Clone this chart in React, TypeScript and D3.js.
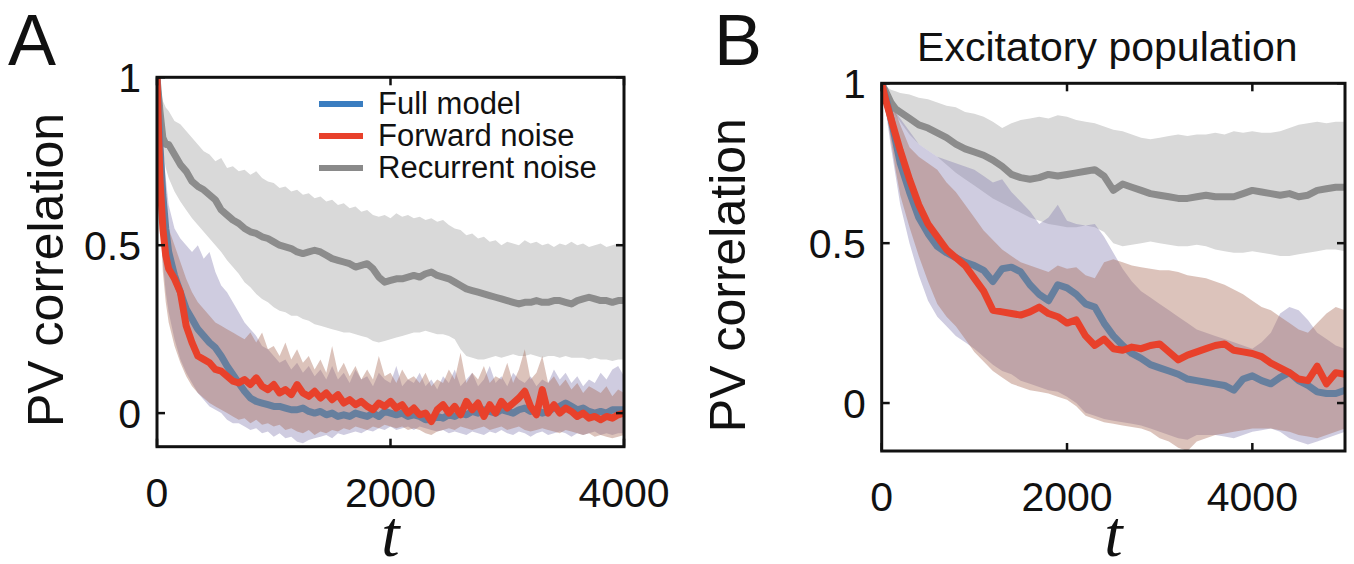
import React from "react";
import * as d3 from "d3";

// sample times of the traces
const tA = [0, 25, 50, 75, 100, 150, 200, ...d3.range(250, 4001, 50)];
const tB = [0, 50, 100, 150, 200, ...d3.range(300, 5001, 100)];

const seriesNames = ["Full model", "Forward noise", "Recurrent noise"];
const xTicksA = [0, 2000, 4000];
const xTicksB = [0, 2000, 4000];
const yTicks = [0, 0.5, 1];

// ---------- panel A ----------
const recMeanA = [
  1.0, 0.9, 0.82, 0.8, 0.8, 0.77, 0.74,
  0.72, 0.69, 0.675, 0.665, 0.65, 0.635, 0.605, 0.59, 0.575, 0.565,
  0.55, 0.54, 0.535, 0.525, 0.52, 0.51, 0.5, 0.495, 0.49, 0.48,
  0.475, 0.48, 0.485, 0.48, 0.47, 0.46, 0.455, 0.45, 0.445, 0.435,
  0.44, 0.445, 0.43, 0.405, 0.39, 0.395, 0.4, 0.4, 0.405, 0.41,
  0.405, 0.415, 0.42, 0.41, 0.405, 0.4, 0.39, 0.38, 0.37, 0.365,
  0.36, 0.355, 0.35, 0.345, 0.34, 0.335, 0.33, 0.325, 0.33, 0.33,
  0.335, 0.33, 0.33, 0.335, 0.335, 0.33, 0.325, 0.335, 0.34, 0.345,
  0.34, 0.335, 0.335, 0.33, 0.335, 0.335,
];
const recHighA = [
  1.0, 0.97, 0.93, 0.91, 0.9, 0.87, 0.86,
  0.84, 0.82, 0.8, 0.78, 0.77, 0.75, 0.76, 0.73, 0.735, 0.72,
  0.725, 0.71, 0.72, 0.7, 0.69, 0.685, 0.67, 0.675, 0.66, 0.665,
  0.65, 0.655, 0.64, 0.645, 0.63, 0.635, 0.62, 0.625, 0.61, 0.615,
  0.6, 0.605, 0.59, 0.585, 0.59, 0.58, 0.595, 0.585, 0.59, 0.58,
  0.585, 0.575, 0.58, 0.57, 0.575, 0.56, 0.55, 0.545, 0.53, 0.535,
  0.52, 0.525, 0.51, 0.515, 0.5, 0.51, 0.505, 0.5, 0.515, 0.505,
  0.51, 0.5, 0.505, 0.495, 0.505, 0.5, 0.51, 0.5, 0.505, 0.495,
  0.5, 0.505, 0.495, 0.5, 0.505, 0.5,
];
const recLowA = [
  1.0, 0.88, 0.78, 0.73, 0.7, 0.66, 0.63,
  0.605, 0.58, 0.56, 0.54, 0.52, 0.5, 0.48, 0.455, 0.435, 0.415,
  0.39, 0.375, 0.355, 0.34, 0.33, 0.315, 0.305, 0.3, 0.29, 0.29,
  0.28, 0.275, 0.265, 0.26, 0.255, 0.25, 0.245, 0.24, 0.24, 0.235,
  0.23, 0.225, 0.215, 0.21, 0.215, 0.22, 0.225, 0.23, 0.235, 0.24,
  0.24, 0.245, 0.24, 0.235, 0.235, 0.23, 0.22, 0.19, 0.17, 0.165,
  0.16, 0.16, 0.165, 0.17, 0.165, 0.17, 0.175, 0.17, 0.17, 0.175,
  0.17, 0.165, 0.17, 0.17, 0.165, 0.17, 0.165, 0.165, 0.165, 0.16,
  0.165, 0.16, 0.16, 0.155, 0.16, 0.16,
];
const fullMeanA = [
  1.0, 0.8, 0.65, 0.55, 0.48, 0.41, 0.36,
  0.31, 0.28, 0.25, 0.23, 0.21, 0.195, 0.17, 0.14, 0.115, 0.09,
  0.065, 0.045, 0.035, 0.03, 0.025, 0.02, 0.02, 0.015, 0.01, 0.01,
  0.015, 0.005, 0.0, 0.005, -0.005, 0.0, -0.01, -0.005, -0.01, 0.0,
  -0.005, -0.01, 0.0, -0.01, 0.005, 0.0, -0.005, 0.0, -0.01, -0.005,
  -0.01, -0.02, -0.02, -0.01, -0.015, -0.005, -0.01, 0.0, -0.005, 0.005,
  0.0, 0.01, 0.005, 0.0, 0.01, 0.005, 0.0, 0.01, 0.015, 0.005,
  0.01, 0.0, 0.005, 0.015, 0.02, 0.03, 0.02, 0.01, 0.015, 0.005,
  0.0, 0.005, 0.0, 0.01, 0.01, 0.01,
];
const fullHighA = [
  1.0, 0.9, 0.8, 0.7, 0.62, 0.55, 0.52,
  0.5, 0.48, 0.5, 0.46, 0.48, 0.42, 0.38, 0.36, 0.33, 0.3,
  0.27, 0.25, 0.23, 0.2, 0.19, 0.17, 0.15, 0.16, 0.13, 0.15,
  0.12, 0.14, 0.11, 0.13, 0.1, 0.14, 0.1, 0.12, 0.09, 0.13,
  0.1, 0.11, 0.08, 0.12, 0.1, 0.09, 0.14, 0.08, 0.1, 0.09,
  0.12, 0.08, 0.1, 0.07, 0.11, 0.09, 0.13, 0.08, 0.1, 0.12,
  0.08, 0.1, 0.14, 0.09, 0.11, 0.08, 0.12, 0.1, 0.09, 0.11,
  0.08, 0.1, 0.09, 0.13, 0.1, 0.12, 0.09, 0.11, 0.08, 0.1,
  0.09, 0.12, 0.1, 0.13, 0.14, 0.11,
];
const fullLowA = [
  1.0, 0.65, 0.45, 0.36, 0.3, 0.22, 0.16,
  0.12, 0.09, 0.06, 0.04, 0.02, 0.01, 0.0, -0.02, -0.03, -0.03,
  -0.04, -0.05, -0.045, -0.06, -0.055, -0.07, -0.06, -0.075, -0.07, -0.085,
  -0.09, -0.08, -0.075, -0.07, -0.065, -0.075, -0.06, -0.065, -0.06, -0.055,
  -0.06, -0.05, -0.055, -0.045, -0.05, -0.04, -0.05, -0.045, -0.04, -0.05,
  -0.04, -0.045, -0.05, -0.055, -0.05, -0.06, -0.055, -0.06, -0.065, -0.055,
  -0.06, -0.065, -0.055, -0.06, -0.05, -0.06, -0.065, -0.055, -0.06, -0.07,
  -0.06, -0.055, -0.065, -0.06, -0.055, -0.06, -0.07, -0.06, -0.065, -0.06,
  -0.055, -0.065, -0.06, -0.065, -0.06, -0.06,
];
const fwdMeanA = [
  1.0, 0.7, 0.55, 0.47, 0.43, 0.4, 0.36,
  0.26, 0.21, 0.17, 0.16, 0.15, 0.13, 0.125, 0.11, 0.095, 0.09,
  0.1, 0.085, 0.105, 0.08, 0.07, 0.085, 0.06, 0.07, 0.055, 0.085,
  0.06, 0.05, 0.065, 0.045, 0.06, 0.04, 0.055, 0.03, 0.04, 0.025,
  0.035, 0.02, 0.01, 0.03, 0.02, 0.035, 0.015, 0.025, 0.0, 0.015,
  -0.005, 0.0, -0.025, 0.01, 0.025, 0.0, 0.02, -0.005, 0.035, 0.01,
  0.03, -0.01, 0.025, 0.0, 0.035, 0.015, 0.03, 0.045, 0.065, 0.02,
  -0.005, 0.07, 0.0, 0.025, 0.0, 0.015, 0.005, -0.01, 0.0, -0.015,
  -0.01, -0.02, -0.01, -0.015, -0.005, 0.0,
];
const fwdHighA = [
  1.0, 0.85, 0.72, 0.62, 0.55, 0.5, 0.45,
  0.4, 0.36, 0.33, 0.31, 0.29, 0.27, 0.26, 0.25, 0.24, 0.23,
  0.22, 0.24, 0.21, 0.24, 0.19, 0.2, 0.17, 0.21, 0.16, 0.19,
  0.15, 0.17, 0.13, 0.16, 0.12, 0.2, 0.12, 0.15, 0.11, 0.14,
  0.1, 0.13, 0.1, 0.17, 0.11, 0.12, 0.09, 0.13, 0.1, 0.11,
  0.09, 0.12, 0.08, 0.1, 0.09, 0.13, 0.1, 0.18, 0.09, 0.12,
  0.1, 0.14, 0.09, 0.11, 0.1, 0.15, 0.09, 0.13, 0.19, 0.1,
  0.12, 0.17, 0.09, 0.11, 0.08, 0.1, 0.07, 0.09, 0.06, 0.08,
  0.07, 0.06, 0.08, 0.05, 0.07, 0.06,
];
const fwdLowA = [
  1.0, 0.6, 0.42, 0.33, 0.27, 0.2, 0.15,
  0.11, 0.08, 0.06, 0.045, 0.03, 0.02, 0.01, 0.0, -0.01, -0.02,
  -0.015, -0.03, -0.02, -0.035, -0.03, -0.04, -0.035, -0.05, -0.045, -0.055,
  -0.06, -0.05, -0.065, -0.055, -0.06, -0.05, -0.055, -0.045, -0.05, -0.04,
  -0.045, -0.05, -0.04, -0.045, -0.035, -0.04, -0.045, -0.04, -0.05, -0.045,
  -0.05, -0.06, -0.065, -0.055, -0.05, -0.045, -0.05, -0.04, -0.045, -0.05,
  -0.045, -0.04, -0.05, -0.045, -0.04, -0.05, -0.045, -0.04, -0.05, -0.055,
  -0.05, -0.045, -0.05, -0.055, -0.06, -0.05, -0.055, -0.06, -0.065, -0.06,
  -0.07, -0.065, -0.07, -0.075, -0.07, -0.065,
];

// ---------- panel B ----------
const recMeanB = [
  1.0, 0.97, 0.94, 0.92, 0.91,
  0.89, 0.87, 0.86, 0.845, 0.83, 0.81, 0.795, 0.785, 0.775, 0.76,
  0.74, 0.715, 0.705, 0.7, 0.705, 0.715, 0.71, 0.715, 0.72, 0.725,
  0.73, 0.71, 0.665, 0.685, 0.675, 0.665, 0.655, 0.65, 0.645, 0.64,
  0.64, 0.645, 0.65, 0.645, 0.645, 0.645, 0.655, 0.665, 0.66, 0.655,
  0.65, 0.655, 0.645, 0.65, 0.665, 0.67, 0.675, 0.675,
];
const recHighB = [
  1.0, 0.99, 0.98, 0.975, 0.97,
  0.965, 0.955, 0.95, 0.94, 0.93, 0.925, 0.91, 0.905, 0.895, 0.88,
  0.86, 0.875, 0.885, 0.89, 0.895, 0.89, 0.9, 0.895, 0.885, 0.88,
  0.875, 0.865, 0.855, 0.85, 0.84, 0.83, 0.825, 0.83, 0.835, 0.84,
  0.835, 0.84, 0.84, 0.845, 0.84, 0.85, 0.845, 0.85, 0.845, 0.845,
  0.85, 0.86, 0.87, 0.875, 0.88, 0.875, 0.88, 0.88,
];
const recLowB = [
  1.0, 0.96, 0.93, 0.9, 0.88,
  0.84, 0.81, 0.79, 0.77, 0.745, 0.72, 0.7, 0.68, 0.66, 0.64,
  0.625, 0.61, 0.595, 0.58, 0.57, 0.56, 0.555, 0.55, 0.55, 0.555,
  0.55, 0.535, 0.5, 0.49, 0.495, 0.5, 0.505, 0.5, 0.495, 0.49,
  0.49, 0.495, 0.49, 0.48, 0.475, 0.47, 0.47, 0.475, 0.47, 0.465,
  0.46, 0.46, 0.465, 0.47, 0.475, 0.48, 0.48, 0.475,
];
const fullMeanB = [
  1.0, 0.95, 0.89, 0.82, 0.75,
  0.66, 0.58, 0.53, 0.49, 0.47, 0.455, 0.44, 0.43, 0.415, 0.38,
  0.42, 0.425, 0.41, 0.37, 0.34, 0.32, 0.37, 0.36, 0.34, 0.31,
  0.3, 0.25, 0.21, 0.18, 0.155, 0.14, 0.12, 0.11, 0.1, 0.09,
  0.075, 0.07, 0.065, 0.06, 0.055, 0.04, 0.075, 0.085, 0.07, 0.06,
  0.08, 0.095, 0.07, 0.055, 0.035, 0.03, 0.03, 0.04,
];
const fullHighB = [
  1.0, 0.97, 0.94, 0.91, 0.89,
  0.85, 0.81, 0.79, 0.77, 0.76, 0.75, 0.74, 0.73, 0.71, 0.69,
  0.7, 0.66, 0.63, 0.6, 0.56, 0.58, 0.62, 0.57, 0.56, 0.555,
  0.56, 0.52, 0.47, 0.42, 0.38, 0.35, 0.33, 0.31, 0.29, 0.27,
  0.25, 0.23, 0.22, 0.21, 0.2, 0.19, 0.18, 0.17, 0.19, 0.22,
  0.28, 0.3, 0.29, 0.26, 0.22, 0.2, 0.18, 0.17,
];
const fullLowB = [
  1.0, 0.9, 0.8, 0.71, 0.62,
  0.5, 0.4, 0.32, 0.27, 0.24, 0.21, 0.19, 0.17, 0.145, 0.12,
  0.1, 0.09, 0.07, 0.06, 0.05, 0.04, 0.035, 0.02, 0.0, -0.03,
  -0.04, -0.05, -0.055, -0.06, -0.065, -0.07, -0.08, -0.09, -0.1, -0.11,
  -0.115, -0.1, -0.1, -0.1, -0.105, -0.11, -0.1, -0.09, -0.085, -0.08,
  -0.09, -0.11, -0.12, -0.13, -0.12, -0.11, -0.1, -0.09,
];
const fwdMeanB = [
  1.0, 0.94, 0.89, 0.84, 0.79,
  0.7, 0.62, 0.56, 0.52, 0.48, 0.455, 0.43, 0.39, 0.35, 0.29,
  0.285, 0.28, 0.275, 0.285, 0.3, 0.28, 0.27, 0.25, 0.26, 0.21,
  0.18, 0.2, 0.17, 0.165, 0.175, 0.17, 0.18, 0.185, 0.16, 0.135,
  0.15, 0.16, 0.17, 0.18, 0.185, 0.165, 0.16, 0.155, 0.145, 0.125,
  0.11, 0.095, 0.075, 0.07, 0.115, 0.06, 0.095, 0.09,
];
const fwdHighB = [
  1.0, 0.97, 0.95, 0.91, 0.87,
  0.8, 0.77, 0.75, 0.73, 0.69, 0.66, 0.62, 0.58, 0.54, 0.51,
  0.48, 0.46, 0.44, 0.43, 0.42, 0.41, 0.43, 0.42, 0.425, 0.4,
  0.39, 0.44, 0.45, 0.44, 0.43, 0.425, 0.42, 0.415, 0.415, 0.41,
  0.4, 0.395, 0.39, 0.38, 0.37, 0.355, 0.34, 0.32, 0.3, 0.29,
  0.27, 0.25, 0.23, 0.22, 0.25, 0.28, 0.3, 0.29,
];
const fwdLowB = [
  1.0, 0.91, 0.82, 0.73, 0.65,
  0.55, 0.46, 0.38, 0.31, 0.27, 0.24, 0.2, 0.16, 0.13, 0.1,
  0.08, 0.06, 0.05, 0.04, 0.035, 0.03, 0.02, 0.01, -0.01, -0.04,
  -0.05, -0.06, -0.065, -0.07, -0.075, -0.08, -0.09, -0.11, -0.12, -0.14,
  -0.15, -0.12, -0.11, -0.1, -0.095, -0.09, -0.085, -0.08, -0.08, -0.08,
  -0.085, -0.09, -0.1, -0.105, -0.11, -0.1, -0.09, -0.08,
];

const FONT = "'Liberation Sans', Arial, Helvetica, sans-serif";
const SERIF = "'Liberation Serif', 'Times New Roman', serif";

const legendColors = ["#3a7dc0", "#e8412b", "#8a8a8a"];

type Band = { lo: number[]; hi: number[]; fill: string; opacity: number };
type Line = { values: number[]; color: string };

function Panel({
  id, left, right, top, bottom, tMax, yMin, times, bands, lines, xTicks,
  yLabelX, letter, letterX, title,
}: {
  id: string; left: number; right: number; top: number; bottom: number;
  tMax: number; yMin: number; times: number[]; bands: Band[]; lines: Line[];
  xTicks: number[]; yLabelX: number; letter: string; letterX: number; title?: string;
}) {
  const x = d3.scaleLinear().domain([0, tMax]).range([left, right]);
  const y = d3.scaleLinear().domain([yMin, 1]).range([bottom, top]);

  const area = (b: Band) =>
    d3.area<number>()
      .x((_, i) => x(times[i]))
      .y0((_, i) => y(b.lo[i]))
      .y1((_, i) => y(b.hi[i]))(times) as string;

  const line = (v: number[]) =>
    d3.line<number>()
      .x((_, i) => x(times[i]))
      .y((_, i) => y(v[i]))(times) as string;

  const midX = (left + right) / 2;
  const midY = (top + bottom) / 2;

  return (
    <g>
      <clipPath id={id}>
        <rect x={left} y={top} width={right - left} height={bottom - top} />
      </clipPath>

      <g clipPath={`url(#${id})`}>
        {bands.map((b, i) => (
          <path key={i} d={area(b)} fill={b.fill} fillOpacity={b.opacity} stroke="none" />
        ))}
        {lines.map((l, i) => (
          <path key={i} d={line(l.values)} fill="none" stroke={l.color}
            strokeWidth={7} strokeLinejoin="round" strokeLinecap="round" />
        ))}
      </g>

      {/* frame + inward ticks */}
      <rect x={left} y={top} width={right - left} height={bottom - top}
        fill="none" stroke="#111" strokeWidth={3} />
      {xTicks.map((t) => (
        <g key={t}>
          <line x1={x(t)} x2={x(t)} y1={bottom} y2={bottom - 8} stroke="#111" strokeWidth={2.5} />
          <line x1={x(t)} x2={x(t)} y1={top} y2={top + 8} stroke="#111" strokeWidth={2.5} />
          <text x={x(t)} y={bottom + 60} textAnchor="middle" fontSize={41} fontFamily={FONT} fill="#111">
            {t}
          </text>
        </g>
      ))}
      {yTicks.map((v) => (
        <g key={v}>
          <line x1={left} x2={left + 8} y1={y(v)} y2={y(v)} stroke="#111" strokeWidth={2.5} />
          <line x1={right} x2={right - 8} y1={y(v)} y2={y(v)} stroke="#111" strokeWidth={2.5} />
          <text x={left - 16} y={y(v) + 15} textAnchor="end" fontSize={41} fontFamily={FONT} fill="#111">
            {v}
          </text>
        </g>
      ))}

      <text x={midX} y={556} textAnchor="middle" fontSize={66} fontStyle="italic"
        fontFamily={SERIF} fill="#111">t</text>
      <text transform={`translate(${yLabelX},${midY + 8}) rotate(-90)`} textAnchor="middle"
        fontSize={50} fontFamily={FONT} fill="#111">PV correlation</text>
      <text x={letterX} y={65} fontSize={72} fontFamily={FONT} fill="#111">{letter}</text>
      {title && (
        <text x={midX - 6} y={61} textAnchor="middle" fontSize={41} fontFamily={FONT} fill="#111">
          {title}
        </text>
      )}
    </g>
  );
}

const lavender = "#8780b2";
const rust = "#a86955";

export default function App() {
  return (
    <svg width={1354} height={564} style={{ position: "absolute", left: 0, top: 0, background: "#fff" }}>
      <Panel
        id="clipA" left={157} right={624} top={77.3} bottom={446.7} tMax={4000} yMin={-0.1}
        times={tA} xTicks={xTicksA} yLabelX={63} letter="A" letterX={8}
        bands={[
          { lo: recLowA, hi: recHighA, fill: "#d9d9d9", opacity: 1 },
          { lo: fullLowA, hi: fullHighA, fill: lavender, opacity: 0.4 },
          { lo: fwdLowA, hi: fwdHighA, fill: rust, opacity: 0.4 },
        ]}
        lines={[
          { values: recMeanA, color: "#8c8c8c" },
          { values: fullMeanA, color: "#667f9e" },
          { values: fwdMeanA, color: "#e8412b" },
        ]}
      />
      <Panel
        id="clipB" left={881.7} right={1345} top={83.3} bottom={451} tMax={5000} yMin={-0.15}
        times={tB} xTicks={xTicksB} yLabelX={745} letter="B" letterX={714}
        title="Excitatory population"
        bands={[
          { lo: recLowB, hi: recHighB, fill: "#d9d9d9", opacity: 1 },
          { lo: fullLowB, hi: fullHighB, fill: lavender, opacity: 0.4 },
          { lo: fwdLowB, hi: fwdHighB, fill: rust, opacity: 0.4 },
        ]}
        lines={[
          { values: recMeanB, color: "#8c8c8c" },
          { values: fullMeanB, color: "#667f9e" },
          { values: fwdMeanB, color: "#e8412b" },
        ]}
      />

      {/* legend, panel A */}
      {seriesNames.map((name, i) => (
        <g key={name}>
          <line x1={319} x2={363} y1={104 + i * 32} y2={104 + i * 32}
            stroke={legendColors[i]} strokeWidth={6} />
          <text x={378} y={114 + i * 32} fontSize={31} fontFamily={FONT} fill="#111">{name}</text>
        </g>
      ))}
    </svg>
  );
}
